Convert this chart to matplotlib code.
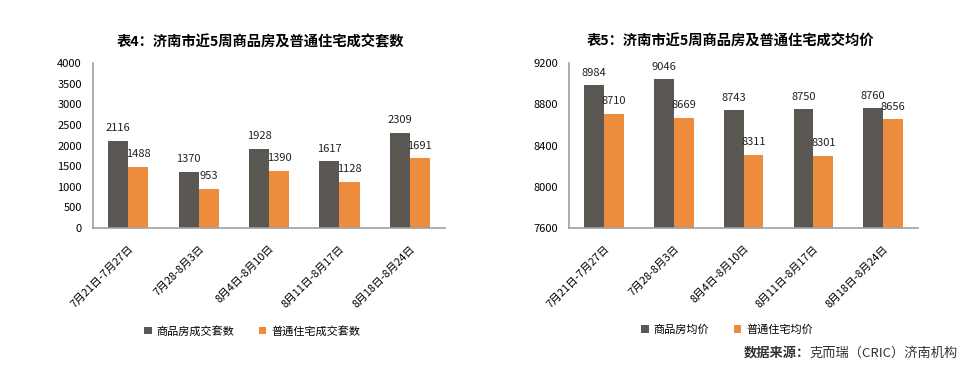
import matplotlib.pyplot as plt
import numpy as np

plt.rcParams['font.family'] = ['Noto Sans CJK SC', 'DejaVu Sans']

weeks = ['7月21日-7月27日', '7月28-8月3日', '8月4日-8月10日',
         '8月11日-8月17日', '8月18日-8月24日']
units_comm = [2116, 1370, 1928, 1617, 2309]
units_res = [1488, 953, 1390, 1128, 1691]
price_comm = [8984, 9046, 8743, 8750, 8760]
price_res = [8710, 8669, 8311, 8301, 8656]

DARK = '#5b5752'
ORANGE = '#ee8c3d'
AXIS = '#a0a0a0'


def draw_panel(ax, s1, s2, names, ylim, yticks):
    x = np.arange(len(weeks))
    w = 0.285
    ax.bar(x - w / 2, np.array(s1) - ylim[0], w, bottom=ylim[0],
           color=DARK, label=names[0])
    ax.bar(x + w / 2, np.array(s2) - ylim[0], w, bottom=ylim[0],
           color=ORANGE, label=names[1])
    off = (ylim[1] - ylim[0]) * 0.045
    for xi, v in zip(x, s1):
        ax.text(xi - w / 2, v + off, str(v), ha='center', va='bottom',
                fontsize=8, color='#222222')
    for xi, v in zip(x, s2):
        ax.text(xi + w / 2, v + off, str(v), ha='center', va='bottom',
                fontsize=8, color='#222222')
    ax.set_xlim(-0.5, len(weeks) - 0.5)
    ax.set_ylim(*ylim)
    ax.set_yticks(yticks)
    ax.set_yticklabels([str(t) for t in yticks], fontsize=8)
    ax.set_xticks(x)
    ax.set_xticklabels(weeks, rotation=45, ha='right', rotation_mode='anchor',
                       fontsize=7.8)
    ax.tick_params(length=0, pad=8)
    ax.tick_params(axis='x', pad=11)
    for s in ['top', 'right']:
        ax.spines[s].set_visible(False)
    for s in ['left', 'bottom']:
        ax.spines[s].set_color(AXIS)
        ax.spines[s].set_linewidth(1.2)


fig = plt.figure(figsize=(9.78, 3.69), dpi=100)
ax1 = fig.add_axes([0.0951, 0.382, 0.36, 0.447])
ax2 = fig.add_axes([0.5818, 0.382, 0.357, 0.447])

draw_panel(ax1, units_comm, units_res, ['商品房成交套数', '普通住宅成交套数'],
           (0, 4000), list(range(0, 4001, 500)))
draw_panel(ax2, price_comm, price_res, ['商品房均价', '普通住宅均价'],
           (7600, 9200), list(range(7600, 9201, 400)))

fig.text(260 / 978, 1 - 42 / 369, '表4：济南市近5周商品房及普通住宅成交套数',
         ha='center', va='center', fontsize=10.3, fontweight='bold')
fig.text(730 / 978, 1 - 42 / 369, '表5：济南市近5周商品房及普通住宅成交均价',
         ha='center', va='center', fontsize=10.3, fontweight='bold')

fig.legend(*ax1.get_legend_handles_labels(), loc='center',
           bbox_to_anchor=(252 / 978, 1 - 331 / 369), ncol=2, frameon=False,
           fontsize=8, handlelength=0.7, handleheight=0.7, handletextpad=0.4,
           columnspacing=2.2)
fig.legend(*ax2.get_legend_handles_labels(), loc='center',
           bbox_to_anchor=(727 / 978, 1 - 330 / 369), ncol=2, frameon=False,
           fontsize=8, handlelength=0.7, handleheight=0.7, handletextpad=0.4,
           columnspacing=2.2)

src = fig.text(958 / 978, 1 - 353 / 369, '克而瑞（CRIC）济南机构', ha='right',
               va='center', fontsize=9.5, color='#333333')
fig.canvas.draw()
bb = src.get_window_extent()
fig.text(bb.x0 / fig.bbox.width, 1 - 353 / 369, '数据来源：', ha='right',
         va='center', fontsize=9.5, fontweight='bold', color='#333333')

fig.savefig('out.png', dpi=100)
